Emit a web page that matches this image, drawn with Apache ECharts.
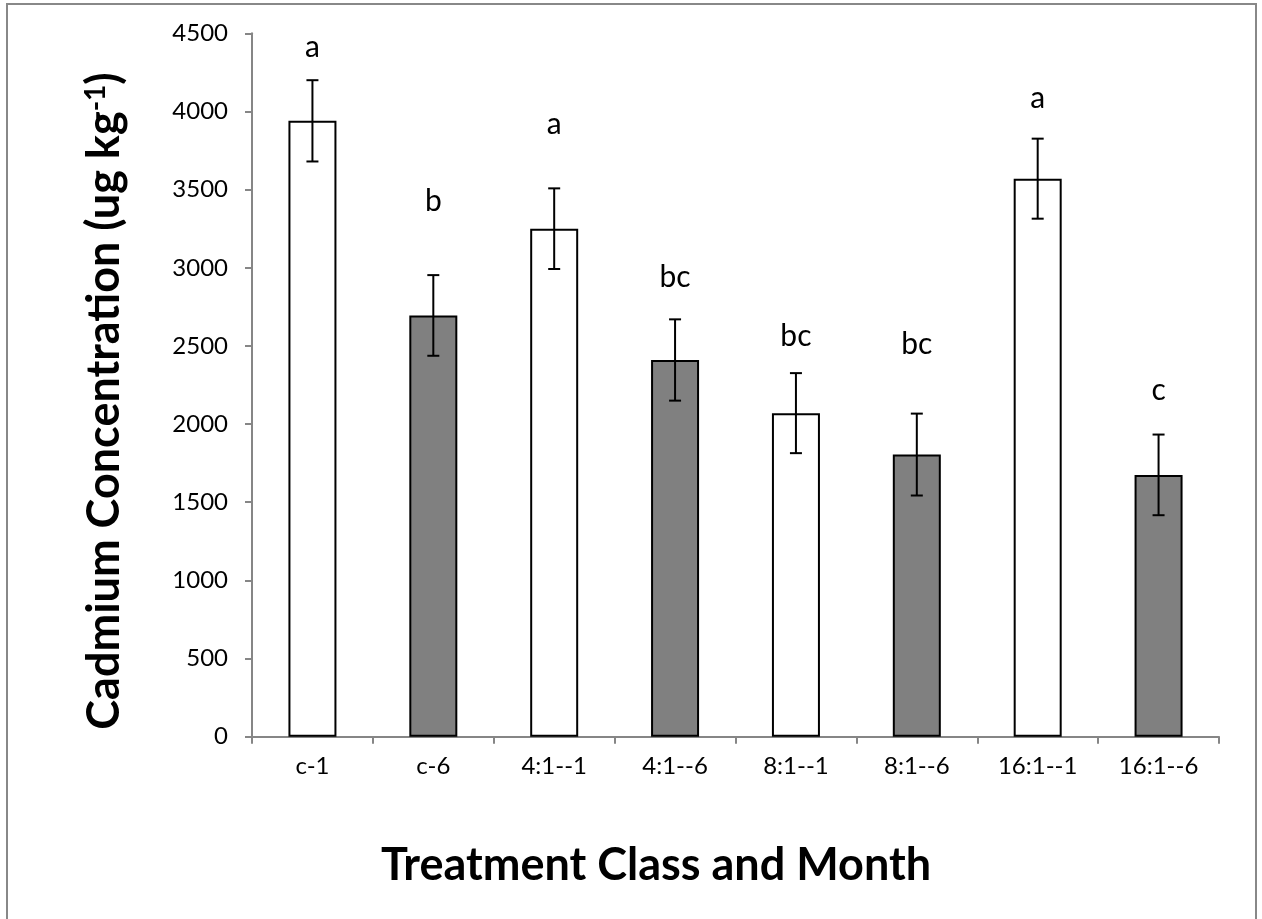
<!DOCTYPE html>
<html>
<head>
<meta charset="utf-8">
<script src="https://cdn.jsdelivr.net/npm/echarts@6/dist/echarts.min.js"></script>
<style>
html,body{margin:0;padding:0;background:#fff;}
#chart{width:1262px;height:919px;}
</style>
</head>
<body>
<div id="chart"></div>
<script>
const categories = ['c-1', 'c-6', '4:1--1', '4:1--6', '8:1--1', '8:1--6', '16:1--1', '16:1--6'];
const means = [3940, 2695, 3250, 2410, 2070, 1805, 3570, 1675];
const errors = [260, 258, 258, 260, 256, 262, 256, 258];
const letters = ['a', 'b', 'a', 'bc', 'bc', 'bc', 'a', 'c'];
const letterY = [4413, 3426, 3920, 2939, 2561, 2510, 4087, 2215];
const yTicks = [0, 500, 1000, 1500, 2000, 2500, 3000, 3500, 4000, 4500];

const FONT = 'Lato';
const chart = echarts.init(document.getElementById('chart'));

const option = {
  animation: false,
  backgroundColor: '#fff',
  grid: { left: 252, right: 43, top: 33.3, bottom: 182.3, containLabel: false },
  xAxis: {
    type: 'category',
    data: categories,
    axisLine: { lineStyle: { color: '#868686', width: 2 } },
    axisTick: { show: true, length: 7, lineStyle: { color: '#868686', width: 2 } },
    axisLabel: { color: '#000', fontFamily: FONT, fontSize: 24, margin: 18 },
    splitLine: { show: false }
  },
  yAxis: {
    type: 'value',
    min: yTicks[0],
    max: yTicks[yTicks.length - 1],
    interval: yTicks[1] - yTicks[0],
    axisLine: { show: true, lineStyle: { color: '#868686', width: 2 } },
    axisTick: { show: true, length: 7, lineStyle: { color: '#868686', width: 2 } },
    axisLabel: { color: '#000', fontFamily: FONT, fontSize: 24, margin: 24, formatter: function (v) { return String(v); } },
    splitLine: { show: false }
  },
  graphic: [
    {
      type: 'rect',
      shape: { x: 7, y: 4, width: 1249, height: 940 },
      style: { fill: 'none', stroke: '#888', lineWidth: 2 },
      silent: true, z: -10
    },
    {
      type: 'text',
      x: 104, y: 401,
      rotation: Math.PI / 2,
      style: {
        text: 'Cadmium Concentration (ug kg{sup|-1})',
        fontFamily: FONT, fontWeight: 'bold', fontSize: 45, fill: '#000',
        align: 'center', verticalAlign: 'middle',
        rich: {
          sup: { fontFamily: FONT, fontWeight: 'bold', fontSize: 28, verticalAlign: 'top', fill: '#000' }
        }
      }
    },
    {
      type: 'text',
      x: 656, y: 865,
      style: {
        text: 'Treatment Class and Month',
        fontFamily: FONT, fontWeight: 'bold', fontSize: 45, fill: '#000',
        align: 'center', verticalAlign: 'middle'
      }
    }
  ],
  series: [
    {
      type: 'bar',
      data: means,
      barWidth: 48,
      itemStyle: {
        color: function (p) { return /-6$/.test(categories[p.dataIndex]) ? '#808080' : '#ffffff'; },
        borderColor: '#000',
        borderWidth: 2
      },
      z: 2
    },
    {
      type: 'custom',
      data: means.map(function (m, i) { return [i, m - errors[i], m + errors[i]]; }),
      encode: { x: 0, y: [1, 2] },
      z: 5,
      renderItem: function (params, api) {
        const i = api.value(0);
        const lo = api.coord([i, api.value(1)]);
        const hi = api.coord([i, api.value(2)]);
        const hw = 6;
        const st = { stroke: '#000', lineWidth: 2 };
        return {
          type: 'group',
          children: [
            { type: 'line', shape: { x1: lo[0], y1: lo[1], x2: hi[0], y2: hi[1] }, style: st },
            { type: 'line', shape: { x1: hi[0] - hw, y1: hi[1], x2: hi[0] + hw, y2: hi[1] }, style: st },
            { type: 'line', shape: { x1: lo[0] - hw, y1: lo[1], x2: lo[0] + hw, y2: lo[1] }, style: st }
          ]
        };
      }
    },
    {
      type: 'custom',
      data: letterY.map(function (v, i) { return [i, v]; }),
      encode: { x: 0, y: 1 },
      z: 6,
      renderItem: function (params, api) {
        const i = api.value(0);
        const p = api.coord([i, api.value(1)]);
        return {
          type: 'text',
          x: p[0], y: p[1],
          style: {
            text: letters[params.dataIndex],
            fontFamily: FONT, fontSize: 30, fill: '#000',
            align: 'center', verticalAlign: 'middle'
          }
        };
      }
    }
  ]
};
chart.setOption(option);
</script>
</body>
</html>
